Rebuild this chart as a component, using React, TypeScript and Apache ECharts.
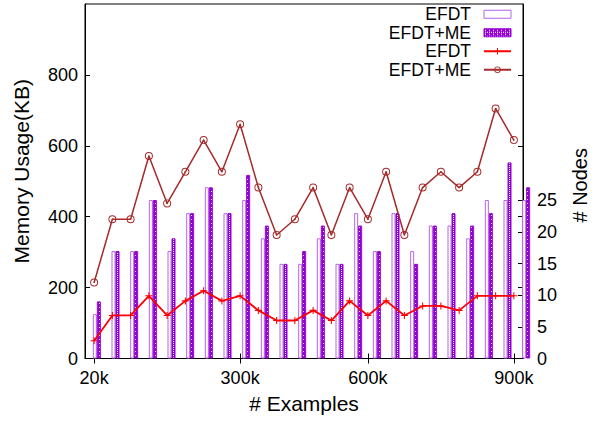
import React, { useEffect, useRef } from "react";
import * as echarts from "echarts";

// x categories (only some carry a tick label)
const xTickLabels = [
  "20k", "", "", "", "", "", "", "", "300k", "", "", "", "", "", "", "600k",
  "", "", "", "", "", "", "", "900k",
];

// Memory usage (KB) – bars, left axis
const memoryEFDT = [
  125, 303, 303, 447, 303, 410, 483, 410, 447, 339, 267, 267,
  339, 267, 410, 303, 410, 303, 375, 375, 339, 447, 447, 447,
];
const memoryEFDTME = [
  161, 303, 303, 447, 339, 410, 483, 410, 518, 375, 267, 303,
  375, 267, 375, 303, 410, 267, 375, 410, 375, 410, 553, 483,
];

// # Nodes – lines, right axis
const nodesEFDT = [
  2.8, 6.8, 6.8, 9.9, 6.8, 9.1, 10.7, 9.1, 9.9, 7.6, 6.0, 6.0,
  7.6, 6.0, 9.1, 6.8, 9.1, 6.8, 8.3, 8.3, 7.6, 9.9, 9.9, 9.9,
];
const nodesEFDTME = [
  12, 22, 22, 32, 24.5, 29.5, 34.5, 29.5, 37, 27, 19.5, 22,
  27, 19.5, 27, 22, 29.5, 19.5, 27, 29.5, 27, 29.5, 39.5, 34.5,
];

const leftTicks = [0, 200, 400, 600, 800];
const rightTicks = [0, 5, 10, 15, 20, 25];
const mirrorTicks = [200, 400, 600, 800];

const FONT = "'Liberation Sans', Arial, Helvetica, sans-serif";
const PURPLE = "#9400d3";
const LIGHT_PURPLE = "#b366e6";

const plusSymbol =
  "path://M-0.6,-4L0.6,-4L0.6,-0.6L4,-0.6L4,0.6L0.6,0.6L0.6,4L-0.6,4L-0.6,0.6L-4,0.6L-4,-0.6L-0.6,-0.6Z";
const ringSymbol =
  "path://M0,-5A5,5,0,1,1,0,5A5,5,0,1,1,0,-5ZM0,-3.8A3.8,3.8,0,1,0,0,3.8A3.8,3.8,0,1,0,0,-3.8ZM0,-1A1,1,0,1,1,0,1A1,1,0,1,1,0,-1Z";

function makePattern() {
  const c = document.createElement("canvas");
  c.width = 4;
  c.height = 4;
  const ctx = c.getContext("2d")!;
  ctx.fillStyle = PURPLE;
  ctx.fillRect(0, 0, 4, 4);
  ctx.fillStyle = "#ffffff";
  ctx.fillRect(1, 1, 1, 1);
  ctx.fillRect(3, 3, 1, 1);
  ctx.fillRect(1, 3, 1, 1);
  return { image: c, repeat: "repeat", imageWidth: 4, imageHeight: 4 };
}

export default function App() {
  const ref = useRef<HTMLDivElement>(null);

  useEffect(() => {
    if (!ref.current) return;
    const chart = echarts.init(ref.current, null, { renderer: "svg" });
    const pattern = makePattern();
    const tickFilter = (_i: number, v: string) => v !== "";

    const option: any = {
      animation: false,
      textStyle: { fontFamily: FONT, color: "#000" },
      grid: [
        {
          left: 85, right: 65, top: 4, bottom: 64.5,
          show: true, borderColor: "#000", borderWidth: 1,
          backgroundColor: "transparent",
        },
        { left: 87.5, right: 62.5, top: 4, bottom: 64.5, show: false },
      ],
      xAxis: [
        {
          type: "category", gridIndex: 0, position: "bottom", data: xTickLabels,
          boundaryGap: true,
          axisLine: { show: true, lineStyle: { color: "#000", width: 1 } },
          axisTick: {
            show: true, inside: true, length: 5, alignWithLabel: true,
            interval: tickFilter, lineStyle: { color: "#000" },
          },
          axisLabel: { interval: 0, margin: 10, fontSize: 18, color: "#000", fontFamily: FONT },
          splitLine: { show: false },
          name: "# Examples", nameLocation: "middle", nameGap: 34,
          nameTextStyle: { fontSize: 21, color: "#000", fontFamily: FONT },
        },
        {
          type: "category", gridIndex: 0, position: "top", data: xTickLabels,
          axisLine: { show: false },
          axisTick: {
            show: true, inside: true, length: 5, alignWithLabel: true,
            interval: tickFilter, lineStyle: { color: "#000" },
          },
          axisLabel: { show: false },
          splitLine: { show: false },
        },
        { type: "category", gridIndex: 1, data: xTickLabels, show: false },
      ],
      yAxis: [
        {
          type: "value", gridIndex: 0, position: "left", min: 0, max: 1000,
          name: "Memory Usage(KB)", nameLocation: "middle", nameRotate: 90, nameGap: 53,
          nameTextStyle: { fontSize: 21, color: "#000", fontFamily: FONT, padding: [0, 0, 0, 20] },
          axisLine: { show: true, lineStyle: { color: "#000" } },
          axisTick: {
            show: true, inside: true, length: 5, customValues: leftTicks,
            lineStyle: { color: "#000" },
          },
          axisLabel: { customValues: leftTicks, fontSize: 18, color: "#000", margin: 7, fontFamily: FONT },
          splitLine: { show: false },
        },
        {
          type: "value", gridIndex: 0, position: "right", min: 0, max: 56,
          name: "# Nodes", nameLocation: "middle", nameRotate: 90, nameGap: 47,
          nameTextStyle: { fontSize: 20, color: "#000", fontFamily: FONT, padding: [0, 8, 0, 0] },
          axisLine: { show: true, lineStyle: { color: "#000" } },
          axisTick: {
            show: true, inside: true, length: 5, customValues: rightTicks,
            lineStyle: { color: "#000" },
          },
          axisLabel: { customValues: rightTicks, fontSize: 18, color: "#000", margin: 14, fontFamily: FONT },
          splitLine: { show: false },
        },
        {
          type: "value", gridIndex: 0, position: "right", min: 0, max: 1000,
          axisLine: { show: false },
          axisTick: {
            show: true, inside: true, length: 5, customValues: mirrorTicks,
            lineStyle: { color: "#000" },
          },
          axisLabel: { show: false },
          splitLine: { show: false },
        },
        { type: "value", gridIndex: 1, min: 0, max: 1000, show: false, splitLine: { show: false } },
      ],
      legend: {
        orient: "vertical", right: 86, top: 5, align: "right",
        itemWidth: 27, itemHeight: 8, itemGap: 0, padding: 0,
        selectedMode: false,
        textStyle: { fontSize: 17.5, color: "#000", lineHeight: 18.5, fontFamily: FONT, padding: [0, 8, 0, 0] },
        formatter: (name: string) => name.replace(/ \(.*\)$/, ""),
        data: [
          { name: "EFDT (KB)", icon: "rect", itemStyle: { color: "#fff", borderColor: LIGHT_PURPLE, borderWidth: 1 } },
          { name: "EFDT+ME (KB)", icon: "rect", itemStyle: { borderColor: PURPLE, borderWidth: 1 } },
          { name: "EFDT (nodes)" },
          { name: "EFDT+ME (nodes)" },
        ],
      },
      series: [
        {
          name: "EFDT (KB)", type: "bar", xAxisIndex: 2, yAxisIndex: 3,
          data: memoryEFDT, barWidth: 4, barGap: "0%",
          itemStyle: { color: "#ffffff", borderColor: LIGHT_PURPLE, borderWidth: 1 },
        },
        {
          name: "EFDT+ME (KB)", type: "bar", xAxisIndex: 2, yAxisIndex: 3,
          data: memoryEFDTME, barWidth: 4, barGap: "0%",
          itemStyle: { color: pattern, borderColor: PURPLE, borderWidth: 1 },
        },
        {
          name: "EFDT (nodes)", type: "line", xAxisIndex: 0, yAxisIndex: 1,
          data: nodesEFDT, symbol: plusSymbol, symbolSize: 7,
          lineStyle: { color: "#ff0000", width: 1.8 },
          itemStyle: { color: "#ff0000" },
        },
        {
          name: "EFDT+ME (nodes)", type: "line", xAxisIndex: 0, yAxisIndex: 1,
          data: nodesEFDTME, symbol: ringSymbol, symbolSize: 8,
          lineStyle: { color: "#a52a2a", width: 1.5 },
          itemStyle: { color: "#a52a2a" },
        },
      ],
    };

    chart.setOption(option);
    return () => chart.dispose();
  }, []);

  return (
    <div
      ref={ref}
      style={{ position: "fixed", left: 0, top: 0, width: 598, height: 423, background: "#fff" }}
    />
  );
}
